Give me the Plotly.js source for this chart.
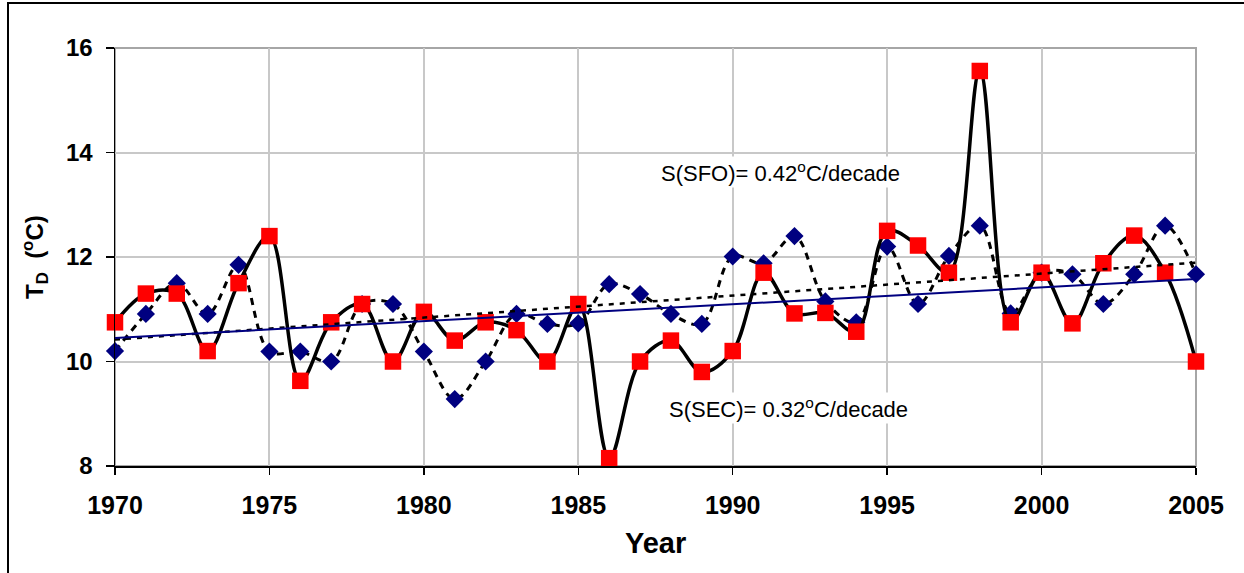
<!DOCTYPE html>
<html>
<head>
<meta charset="utf-8">
<script src="https://cdn.plot.ly/plotly-3.0.1.min.js"></script>
<style>
  html, body { margin: 0; padding: 0; background: #fff; }
  #wrap { position: relative; width: 1244px; height: 573px; overflow: hidden; }
  #chart { position: absolute; left: 0; top: 0; width: 1244px; height: 573px; }
  #frame { position: absolute; left: 7px; top: 2px; width: 1260px; height: 600px;
           border-left: 2px solid #000; border-top: 2px solid #000; pointer-events: none; }
</style>
</head>
<body>
<div id="wrap">
  <div id="chart"></div>
  <div id="frame"></div>
</div>
<script>
// Annual values, 1970-2005
const years = [];
for (let y = 1970; y <= 2005; y++) years.push(y);

// Series drawn with blue diamonds and a dashed smoothed curve
const sfoValues = [10.2, 10.91, 11.5, 10.91, 11.85, 10.19, 10.19, 10.0, 11.1, 11.1,
                   10.19, 9.28, 10.0, 10.91, 10.72, 10.73, 11.48, 11.29, 10.91, 10.72,
                   12.01, 11.88, 12.4, 11.15, 10.75, 12.2, 11.1, 12.02, 12.6, 10.92,
                   11.7, 11.67, 11.1, 11.67, 12.6, 11.67];

// Series drawn with red squares and a solid smoothed curve
const secValues = [10.75, 11.3, 11.3, 10.2, 11.5, 12.4, 9.63, 10.75, 11.1, 10.0,
                   10.95, 10.4, 10.75, 10.6, 10.0, 11.1, 8.15, 10.0, 10.4, 9.8,
                   10.2, 11.7, 10.92, 10.93, 10.57, 12.5, 12.22, 11.7, 15.56, 10.75,
                   11.7, 10.73, 11.88, 12.41, 11.7, 10.0];

const xTicks = [1970, 1975, 1980, 1985, 1990, 1995, 2000, 2005];
const yTicks = [8, 10, 12, 14, 16];

// Least-squares linear trend evaluated at the ends of the period
function linearFit(xs, ys) {
  const n = xs.length;
  const mx = xs.reduce((a, b) => a + b, 0) / n;
  const my = ys.reduce((a, b) => a + b, 0) / n;
  let sxy = 0, sxx = 0;
  for (let i = 0; i < n; i++) {
    sxy += (xs[i] - mx) * (ys[i] - my);
    sxx += (xs[i] - mx) * (xs[i] - mx);
  }
  const slope = sxy / sxx;
  const ends = [xs[0], xs[n - 1]];
  return { x: ends, y: ends.map(x => my + slope * (x - mx)) };
}

const sfoTrend = linearFit(years, sfoValues);
const secTrend = linearFit(years, secValues);

const FONT = 'Liberation Sans, Arial, sans-serif';

const traces = [
  {
    x: years, y: sfoValues, type: 'scatter', mode: 'lines+markers',
    line: { color: '#000', width: 3, shape: 'spline', smoothing: 1, dash: '7px,6px' },
    marker: { symbol: 'diamond', size: 14, color: '#000080' },
    cliponaxis: false, hoverinfo: 'skip'
  },
  {
    x: years, y: secValues, type: 'scatter', mode: 'lines+markers',
    line: { color: '#000', width: 3.5, shape: 'spline', smoothing: 1 },
    marker: { symbol: 'square', size: 16.5, color: '#ff0000' },
    cliponaxis: false, hoverinfo: 'skip'
  },
  {
    x: sfoTrend.x, y: sfoTrend.y, type: 'scatter', mode: 'lines',
    line: { color: '#000', width: 2.5, dash: '5px,6px' }, hoverinfo: 'skip'
  },
  {
    x: secTrend.x, y: secTrend.y, type: 'scatter', mode: 'lines',
    line: { color: '#000080', width: 2 }, hoverinfo: 'skip'
  }
];

const layout = {
  width: 1244, height: 573,
  margin: { l: 115, r: 48, t: 48, b: 107, pad: 0 },
  paper_bgcolor: '#fff', plot_bgcolor: '#fff',
  showlegend: false,
  font: { family: FONT, color: '#000' },
  xaxis: {
    range: [1970, 2005], tickvals: xTicks, ticktext: xTicks.map(String),
    showgrid: true, gridcolor: '#c8c8c8', gridwidth: 2,
    showline: true, linecolor: '#000', linewidth: 1.5,
    ticks: 'outside', ticklen: 7, tickwidth: 1.5, tickcolor: '#000',
    ticklabelstandoff: 9,
    tickfont: { family: FONT, size: 25, weight: 'bold', color: '#000' },
    zeroline: false, fixedrange: true
  },
  yaxis: {
    range: [8, 16], tickvals: yTicks, ticktext: yTicks.map(String),
    showgrid: true, gridcolor: '#c8c8c8', gridwidth: 2,
    showline: true, linecolor: '#000', linewidth: 1.5,
    ticks: 'outside', ticklen: 8, tickwidth: 1.5, tickcolor: '#000',
    ticklabelstandoff: 8,
    tickfont: { family: FONT, size: 24, weight: 'bold', color: '#000' },
    zeroline: false, fixedrange: true
  },
  shapes: [
    { type: 'rect', xref: 'paper', yref: 'paper', x0: 0, x1: 1, y0: 0, y1: 1,
      line: { color: '#a6a6a6', width: 2 }, layer: 'below' }
  ],
  annotations: [
    { text: 'S(SFO)= 0.42<sup>o</sup>C/decade', xref: 'paper', yref: 'paper',
      x: 0.616, y: 0.703, xanchor: 'center', yanchor: 'middle', showarrow: false,
      bgcolor: '#fff', font: { family: FONT, size: 22, color: '#000' } },
    { text: 'S(SEC)= 0.32<sup>o</sup>C/decade', xref: 'paper', yref: 'paper',
      x: 0.623, y: 0.138, xanchor: 'center', yanchor: 'middle', showarrow: false,
      bgcolor: '#fff', font: { family: FONT, size: 22, color: '#000' } },
    { text: 'T<sub>D</sub>  (<sup>o</sup>C)', xref: 'paper', yref: 'paper',
      x: -0.074, y: 0.5, xanchor: 'center', yanchor: 'middle', textangle: -90,
      showarrow: false, font: { family: FONT, size: 24, weight: 'bold', color: '#000' } },
    { text: 'Year', xref: 'paper', yref: 'paper',
      x: 0.5, y: -0.184, xanchor: 'center', yanchor: 'middle', showarrow: false,
      font: { family: FONT, size: 29, weight: 'bold', color: '#000' } }
  ]
};

Plotly.newPlot('chart', traces, layout, { staticPlot: true, displayModeBar: false });
</script>
</body>
</html>
